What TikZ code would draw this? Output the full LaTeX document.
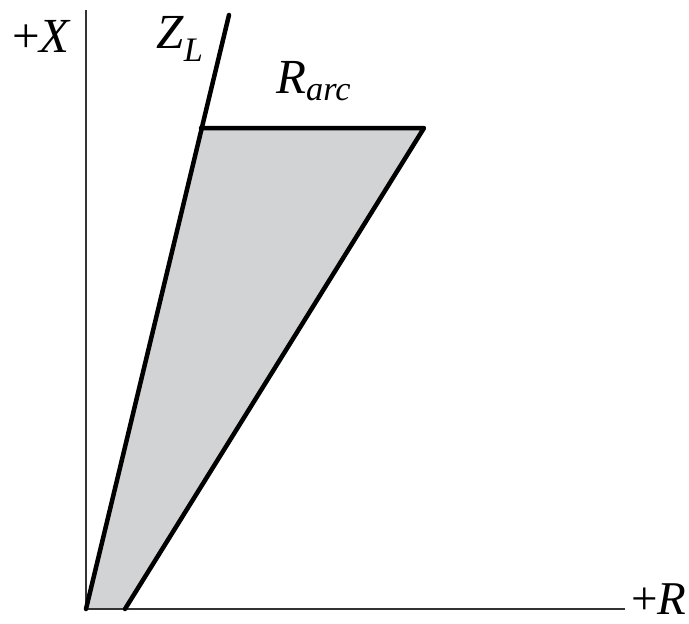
\documentclass[tikz,border=0pt]{standalone}
\usepackage{fontspec}
\setmainfont{Liberation Serif}
\definecolor{regiongray}{RGB}{210,211,213}
\begin{document}
\begin{tikzpicture}[x=1pt,y=-1pt,
  axisline/.style={line width=1.4pt, draw=black!80},
  heavyline/.style={line width=4.5pt, line cap=round, line join=round},
  lbl/.style={anchor=base west, inner sep=0pt, font=\fontsize{49}{58}\selectfont}]
\useasboundingbox (0,0) rectangle (689,624);
\coordinate (O) at (86,609);
\coordinate (Ytop) at (86,10);
\coordinate (Xend) at (625,609);
\coordinate (ZLtop) at (229,15);
\coordinate (A) at (201,128);
\coordinate (B) at (424,128);
\coordinate (C) at (125,609);
\fill[regiongray] (O) -- (A) -- (B) -- (C) -- cycle;
\draw[axisline] (Ytop) -- (O) -- (Xend);
\draw[heavyline] (O) -- (ZLtop);
\draw[heavyline] (A) -- (B) -- (C);
\node[lbl] (xlab) at (12,52) {+\textit{X}};
\node[lbl] (zlab) at (156,48) {\textit{Z}\textsubscript{\textit{L}}};
\node[lbl] (rlab) at (276,93) {\textit{R}\textsubscript{\textit{arc}}};
\node[lbl, font=\fontsize{47}{56}\selectfont] (rax) at (631,614) {+\textit{R}};
\end{tikzpicture}
\end{document}
